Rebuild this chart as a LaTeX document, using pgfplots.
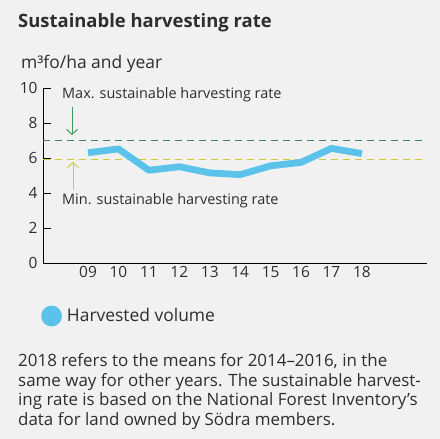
\documentclass[border=0pt]{standalone}
\usepackage{fontspec}
\setmainfont{Open Sans}
\usepackage{pgfplots}
\pgfplotsset{compat=1.18}
\usetikzlibrary{arrows.meta}
\definecolor{bg}{HTML}{F2F1F1}
\definecolor{txt}{HTML}{2E2E2E}
\definecolor{harv}{HTML}{5BC3EA}
\definecolor{maxc}{HTML}{447F62}
\definecolor{minc}{HTML}{CFCB38}
\definecolor{maxarrow}{HTML}{3C9A5C}
\definecolor{minarrow}{HTML}{C8CE3A}
\begin{document}
\begin{tikzpicture}[x=1bp,y=1bp]
\useasboundingbox (0,0) rectangle (440,-439);
\fill[bg] (0,0) rectangle (440,-439);
% title and unit
\node[anchor=base west, inner sep=0, text=txt, font=\fontsize{18.5}{22}\selectfont\bfseries] at (18,-28) {Sustainable harvesting rate};
\node[anchor=base west, inner sep=0, text=txt, font=\fontsize{17.5}{20}\selectfont] at (21,-69) {m³fo/ha and year};
\begin{axis}[
  at={(43bp,-263bp)}, anchor=origin,
  scale only axis, width=384bp, height=175bp,
  xmin=7.52, xmax=20.14, ymin=0, ymax=10,
  axis x line*=bottom, axis y line*=left,
  axis line style={draw=black, line width=0.9pt, -},
  xtick={9,...,18},
  xticklabels={09,10,11,12,13,14,15,16,17,18},
  major x tick style={draw=none},
  ytick={0,2,...,10},
  major y tick style={draw=black, line width=0.9pt},
  tick align=inside, major tick length=8bp,
  tick label style={font=\fontsize{15.5}{18}\selectfont, text=txt},
  yticklabel style={xshift=-2bp},
  /pgf/number format/assume math mode=true,
  clip=false,
  legend style={at={(0.0,-0.303)}, anchor=west, draw=none, fill=none, xshift=-5bp,
    font=\fontsize{17.5}{20}\selectfont, text=txt,
    /tikz/every odd column/.append style={column sep=3bp}},
  legend image code/.code={\fill[harv] (0bp,0bp) circle (7bp);},
]
\addplot[maxc, line width=1.3pt, dash pattern=on 7bp off 5bp, forget plot] coordinates {(7.52,7.0) (20.14,7.0)};
\addplot[minc, line width=1.4pt, dash pattern=on 7bp off 5bp, forget plot] coordinates {(7.52,5.92) (20.14,5.92)};
\addplot[harv, line width=6.8pt, line join=round, no markers] coordinates {
(9,6.30) (10,6.52) (11,5.30) (12,5.50) (13,5.15) (14,5.05) (15,5.55) (16,5.75) (17,6.55) (18,6.25)
};
\addlegendentry{Harvested volume}
\end{axis}
% annotations
\node[anchor=base west, inner sep=0, text=txt, font=\fontsize{14.5}{17}\selectfont] at (62,-99) {Max. sustainable harvesting rate};
\draw[maxarrow, line width=1pt, -{Straight Barb[length=5bp,width=11bp]}] (72,-107) -- (72,-135);
\node[anchor=base west, inner sep=0, text=txt, font=\fontsize{14.5}{17}\selectfont] at (62,-205) {Min. sustainable harvesting rate};
\draw[minarrow, line width=1pt, -{Straight Barb[length=5bp,width=11bp]}] (73,-190) -- (73,-162);
% footnote
\begin{scope}[every node/.style={anchor=base west, inner sep=0, text=txt, font=\fontsize{17}{19.5}\selectfont}]
\node at (18,-366) {2018 refers to the means for 2014–2016, in the};
\node at (18,-386) {same way for other years. The sustainable harvest-};
\node at (18,-405) {ing rate is based on the National Forest Inventory’s};
\node at (18,-425) {data for land owned by Södra members.};
\end{scope}
\end{tikzpicture}
\end{document}
